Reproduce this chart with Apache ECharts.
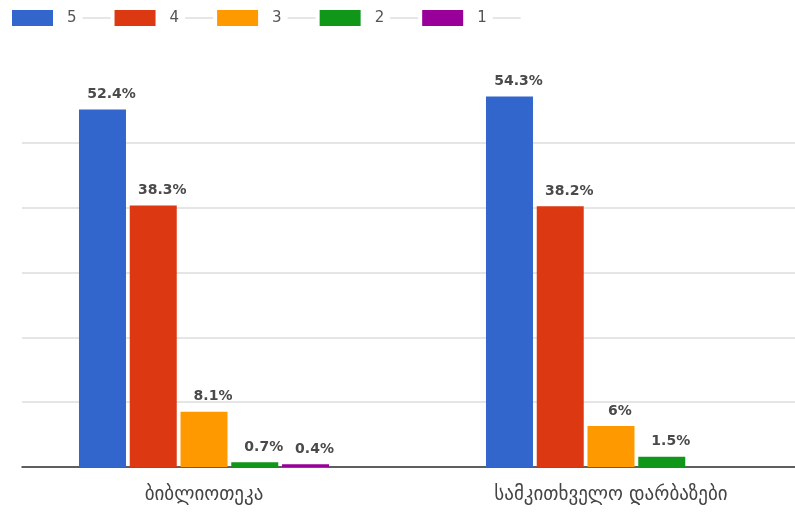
<!DOCTYPE html>
<html><head><meta charset="utf-8">
<script src="https://cdn.jsdelivr.net/npm/echarts@6/dist/echarts.min.js"></script>
<style>html,body{margin:0;padding:0;background:#fff}#c{width:795px;height:520px}</style>
</head><body><div id="c"></div>
<script>
var categories = ['ბიბლიოთეკა', 'სამკითხველო დარბაზები'];
var seriesNames = ['5', '4', '3', '2', '1'];
var s5 = [52.4, 54.3];
var s4 = [38.3, 38.2];
var s3 = [8.1, 6];
var s2 = [0.7, 1.5];
var s1 = [0.4, null];
var colors = ['#3366cc', '#dc3912', '#ff9900', '#109618', '#990099'];

var values = [s5, s4, s3, s2, s1];
var chart = echarts.init(document.getElementById('c'));
var series = seriesNames.map(function (n, i) {
  return {
    name: n, type: 'bar',
    data: values[i].map(function (v, k) { return [k, v]; }),
    barWidth: 47, barGap: '8%',
    itemStyle: { color: colors[i] },
    label: {
      show: true, position: 'top', distance: 8, offset: [9, 0],
      formatter: function (p) { return p.value[1] == null ? '' : p.value[1] + '%'; },
      fontFamily: 'DejaVu Sans', fontSize: 14, fontWeight: 'bold', color: '#4a4a4a'
    }
  };
});
chart.setOption({
  animation: false,
  color: colors,
  legend: {
    left: 12, top: 10, padding: 0, itemWidth: 41, itemHeight: 16, itemGap: 4,
    icon: 'rect',
    formatter: function (n) { return '{sp| }{n|' + n + '}{gp| }{l| }'; },
    textStyle: {
      rich: {
        sp: { width: 9 },
        n: { fontFamily: 'DejaVu Sans', fontSize: 15, color: '#555' },
        gp: { width: 6 },
        l: { width: 28, height: 1, backgroundColor: '#cccccc' }
      }
    }
  },
  grid: { left: 22, right: 0, top: 78, bottom: 53 },
  xAxis: {
    type: 'value', min: -0.4472, max: 1.4521,
    splitLine: { show: false },
    axisLine: { onZero: false, lineStyle: { color: '#333', width: 1.5 } },
    axisTick: { show: false },
    axisLabel: {
      customValues: [0, 1],
      formatter: function (v) { return categories[Math.round(v)] || ''; },
      fontFamily: 'DejaVu Sans', fontSize: 19, color: '#444', margin: 19
    }
  },
  yAxis: {
    type: 'value', min: 0, max: 57, interval: 9.5,
    axisLabel: { show: false }, axisLine: { show: false }, axisTick: { show: false },
    splitLine: { show: true, showMaxLine: false, lineStyle: { color: '#dddddd', width: 1.5 } }
  },
  series: series
});
</script></body></html>
